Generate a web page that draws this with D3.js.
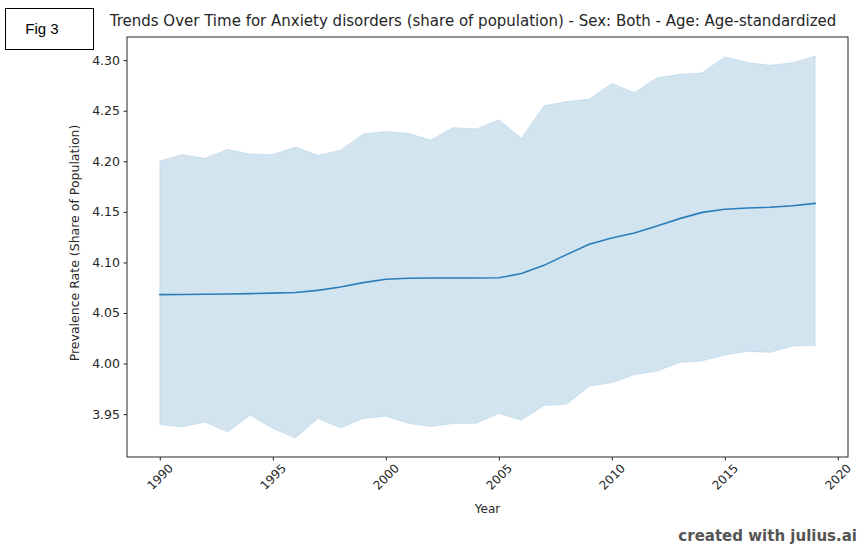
<!DOCTYPE html>
<html>
<head>
<meta charset="utf-8">
<script src="https://cdn.jsdelivr.net/npm/d3@7"></script>
<style>
  html, body { margin: 0; padding: 0; background: #fff; }
  svg { display: block; }
</style>
</head>
<body>
<svg id="chart" width="864" height="545"></svg>
<script>
// ---- Data ----
const years = [1990,1991,1992,1993,1994,1995,1996,1997,1998,1999,2000,2001,2002,2003,2004,2005,2006,2007,2008,2009,2010,2011,2012,2013,2014,2015,2016,2017,2018,2019];
const meanValues = [4.0682,4.0683,4.0685,4.0688,4.0692,4.0696,4.0703,4.0724,4.0757,4.0800,4.0833,4.0843,4.0846,4.0846,4.0846,4.0848,4.0890,4.0971,4.1077,4.1179,4.1241,4.1290,4.1360,4.1433,4.1495,4.1525,4.1538,4.1545,4.1560,4.1584];
const upperValues = [4.2002,4.2068,4.2030,4.2120,4.2070,4.2068,4.2140,4.2060,4.2110,4.2270,4.2295,4.2276,4.2210,4.2335,4.2320,4.2410,4.2230,4.2550,4.2590,4.2615,4.2770,4.2680,4.2826,4.2860,4.2875,4.3034,4.2977,4.2950,4.2974,4.3040];
const lowerValues = [3.9397,3.9374,3.9420,3.9324,3.9490,3.9357,3.9265,3.9457,3.9364,3.9457,3.9480,3.9407,3.9377,3.9407,3.9410,3.9506,3.9440,3.9585,3.9598,3.9776,3.9810,3.9890,3.9924,4.0010,4.0026,4.0085,4.0120,4.0110,4.0174,4.0178];
const xTicks = [1990,1995,2000,2005,2010,2015,2020];
const yTicks = [3.95,4.00,4.05,4.10,4.15,4.20,4.25,4.30];
const titleText = "Trends Over Time for Anxiety disorders (share of population) - Sex: Both - Age: Age-standardized";
const xLabel = "Year";
const yLabel = "Prevalence Rate (Share of Population)";
const figLabel = "Fig 3";
const watermark = "created with julius.ai";

const data = years.map((y, i) => ({ year: y, mean: meanValues[i], lo: lowerValues[i], hi: upperValues[i] }));

// ---- Layout ----
const plot = { left: 127, right: 848, top: 37, bottom: 457 };
const svg = d3.select("#chart");
const textColor = "#262626";

// matplotlib-like 5% margins
const xMin = d3.min(years), xMax = d3.max(years);
const xPad = (xMax - xMin) * 0.05;
const yMin = d3.min(lowerValues), yMax = d3.max(upperValues);
const yPad = (yMax - yMin) * 0.05;

const x = d3.scaleLinear().domain([xMin - xPad, xMax + xPad]).range([plot.left, plot.right]);
const y = d3.scaleLinear().domain([yMin - yPad, yMax + yPad]).range([plot.bottom, plot.top]);

// ---- Band ----
const area = d3.area().x(d => x(d.year)).y0(d => y(d.lo)).y1(d => y(d.hi));
svg.append("path")
  .datum(data)
  .attr("d", area)
  .attr("fill", "#1f77b4")
  .attr("fill-opacity", 0.2)
  .attr("stroke", "#1f77b4")
  .attr("stroke-opacity", 0.12)
  .attr("stroke-width", 1);

// ---- Mean line ----
const line = d3.line().x(d => x(d.year)).y(d => y(d.mean));
svg.append("path")
  .datum(data)
  .attr("d", line)
  .attr("fill", "none")
  .attr("stroke", "#2a7dba")
  .attr("stroke-width", 1.6)
  .attr("stroke-linejoin", "round")
  .attr("stroke-linecap", "round");

// ---- Frame ----
svg.append("rect")
  .attr("x", plot.left).attr("y", plot.top)
  .attr("width", plot.right - plot.left).attr("height", plot.bottom - plot.top)
  .attr("fill", "none").attr("stroke", textColor).attr("stroke-width", 1);

// ---- Axes ----
const xAxis = d3.axisBottom(x).tickValues(xTicks).tickFormat(d3.format("d")).tickSize(3.5).tickPadding(3.5);
const gx = svg.append("g").attr("transform", `translate(0,${plot.bottom})`).call(xAxis);
gx.select(".domain").remove();
gx.selectAll(".tick line").attr("stroke", textColor);
gx.selectAll(".tick text")
  .attr("fill", textColor)
  .attr("font-family", "DejaVu Sans")
  .attr("font-size", 12)
  .attr("text-anchor", "middle")
  .attr("dominant-baseline", "central")
  .attr("dy", null)
  .attr("y", 0)
  .attr("transform", "translate(0,20) rotate(-45)");

const yAxis = d3.axisLeft(y).tickValues(yTicks).tickFormat(d3.format(".2f")).tickSize(3.5).tickPadding(3.5);
const gy = svg.append("g").attr("transform", `translate(${plot.left},0)`).call(yAxis);
gy.select(".domain").remove();
gy.selectAll(".tick line").attr("stroke", textColor);
gy.selectAll(".tick text")
  .attr("fill", textColor)
  .attr("font-family", "DejaVu Sans")
  .attr("font-size", 12.5);

// ---- Labels ----
svg.append("text")
  .attr("x", (plot.left + plot.right) / 2).attr("y", 513)
  .attr("text-anchor", "middle")
  .attr("font-family", "DejaVu Sans").attr("font-size", 12)
  .attr("fill", textColor)
  .text(xLabel);

svg.append("text")
  .attr("transform", `translate(79,${(plot.top + plot.bottom) / 2 - 4}) rotate(-90)`)
  .attr("text-anchor", "middle")
  .attr("font-family", "DejaVu Sans").attr("font-size", 12.5)
  .attr("fill", textColor)
  .text(yLabel);

svg.append("text")
  .attr("x", 473).attr("y", 26)
  .attr("text-anchor", "middle")
  .attr("font-family", "DejaVu Sans").attr("font-size", 15)
  .attr("fill", textColor)
  .text(titleText);

// ---- Fig box ----
svg.append("rect")
  .attr("x", 5.5).attr("y", 8.5).attr("width", 88).attr("height", 41)
  .attr("fill", "#fff").attr("stroke", "#000").attr("stroke-width", 1);
svg.append("text")
  .attr("x", 42).attr("y", 34)
  .attr("text-anchor", "middle")
  .attr("font-family", "Liberation Sans, Arial").attr("font-size", 15)
  .attr("fill", "#000")
  .text(figLabel);

// ---- Watermark ----
svg.append("text")
  .attr("x", 857).attr("y", 541)
  .attr("text-anchor", "end")
  .attr("font-family", "DejaVu Sans").attr("font-weight", "bold").attr("font-size", 15)
  .attr("fill", "#555")
  .text(watermark);
</script>
</body>
</html>
